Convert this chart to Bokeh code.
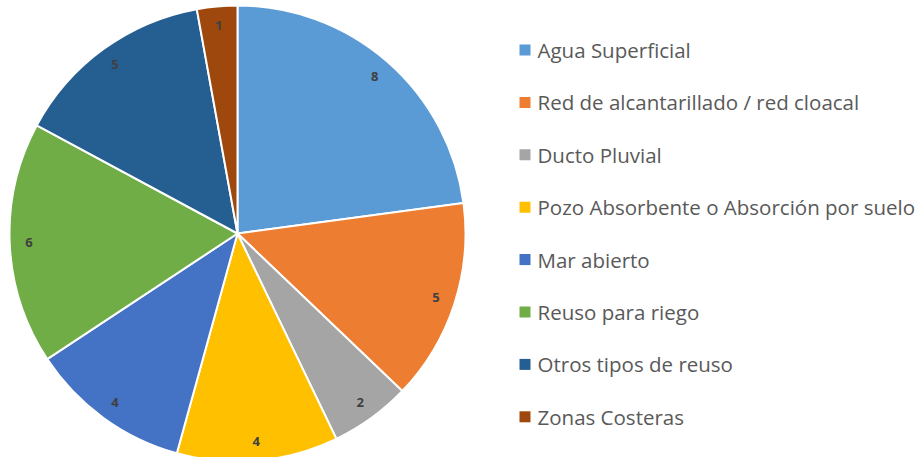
import math
from bokeh.plotting import figure
from bokeh.models import ColumnDataSource, Range1d
from bokeh.core.properties import value
from bokeh.embed import file_html
from bokeh.resources import INLINE

categories = ["Agua Superficial", "Red de alcantarillado / red cloacal", "Ducto Pluvial",
              "Pozo Absorbente o Absorción por suelo", "Mar abierto", "Reuso para riego",
              "Otros tipos de reuso", "Zonas Costeras"]
values = [8, 5, 2, 4, 4, 6, 5, 1]
colors = ["#5B9BD5", "#ED7D31", "#A5A5A5", "#FFC000", "#4472C4", "#70AD47", "#255E91", "#9E480E"]

W, H = 923, 457
CX, CY, R = 237, H - 233, 228

total = sum(values)
starts, ends, lx, ly = [], [], [], []
cum = 0
for v in values:
    a0 = math.pi / 2 - 2 * math.pi * cum / total
    a1 = math.pi / 2 - 2 * math.pi * (cum + v) / total
    starts.append(a0)
    ends.append(a1)
    mid = (a0 + a1) / 2
    lx.append(CX + 0.915 * R * math.cos(mid))
    ly.append(CY + 0.915 * R * math.sin(mid))
    cum += v

src = ColumnDataSource(dict(cat=categories, val=values, color=colors, start=starts, end=ends,
                            lx=lx, ly=ly, lab=[str(v) for v in values]))

p = figure(width=W, height=H, x_range=Range1d(0, W), y_range=Range1d(0, H),
           x_axis_type=None, y_axis_type=None, toolbar_location=None,
           output_backend="svg", min_border=0)
p.grid.visible = False
p.outline_line_color = None
p.background_fill_color = "white"
p.border_fill_color = "white"

p.wedge(x=CX, y=CY, radius=R, start_angle="start", end_angle="end", direction="clock",
        fill_color="color", line_color="white", line_width=2, source=src)

p.text(x="lx", y="ly", text="lab", source=src, text_align="center", text_baseline="middle",
       text_font=value("Open Sans"), text_font_size="13px", text_font_style="bold",
       text_color="#404040")

# legend
n = len(categories)
leg_sq_x = [524.5] * n
leg_y = [H - (49.5 + 52.4 * i) for i in range(n)]
leg_tx = [537] * n
lsrc = ColumnDataSource(dict(x=leg_sq_x, y=leg_y, tx=leg_tx, cat=categories, color=colors))
p.scatter(x="x", y="y", marker="square", size=11, fill_color="color", line_color=None, source=lsrc)
p.text(x="tx", y="y", text="cat", source=lsrc, text_align="left", text_baseline="middle",
       text_font=value("Open Sans"), text_font_size="20.5px", text_color="#595959")

open("out.html", "w").write(file_html(p, INLINE))
